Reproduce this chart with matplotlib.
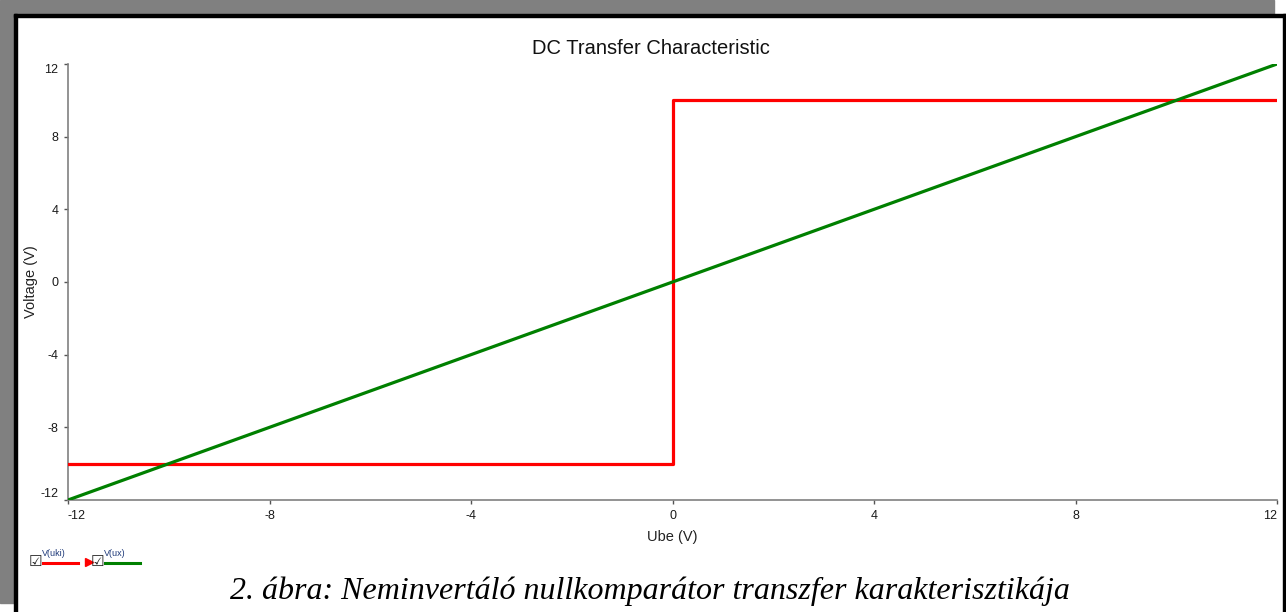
import matplotlib.pyplot as plt
from matplotlib.patches import Rectangle
from matplotlib.lines import Line2D

# data
ube = [-12, 0, 0, 12]
v_uki = [-10, -10, 10, 10]
ux_x = [-12, 12]
v_ux = [-12, 12]
ticks = [-12, -8, -4, 0, 4, 8, 12]

W, H = 1286, 612
plt.rcParams['font.family'] = ['Liberation Sans', 'DejaVu Sans']
plt.rcParams['axes.unicode_minus'] = False

fig = plt.figure(figsize=(W / 100, H / 100), dpi=100)


def fx(x):
    return x / W


def fy(y):
    return 1 - y / H


# screenshot frame: grey band top/left, black border
fig.patches.append(Rectangle((0, fy(14)), fx(1274), 14 / H, transform=fig.transFigure,
                             color='#808080', zorder=0))
fig.patches.append(Rectangle((0, fy(603)), fx(14), (603 - 14) / H, transform=fig.transFigure,
                             color='#808080', zorder=0))
fig.patches.append(Rectangle((fx(14), fy(17)), fx(1272), 3 / H, transform=fig.transFigure,
                             color='black', zorder=0))
fig.patches.append(Rectangle((fx(14), 0), fx(3), fy(14), transform=fig.transFigure,
                             color='black', zorder=0))
fig.patches.append(Rectangle((fx(1283), 0), fx(3), fy(14), transform=fig.transFigure,
                             color='black', zorder=0))

ax = fig.add_axes([fx(68), fy(500), fx(1277 - 68), (500 - 64) / H])
ax.patch.set_alpha(0)

ax.plot(ube, v_uki, color='#ff0000', lw=2.3, solid_joinstyle='round', zorder=3)
ax.plot(ux_x, v_ux, color='#008000', lw=2.3, zorder=4)

ax.set_xlim(-12, 12)
ax.set_ylim(-12, 12)
ax.set_xticks(ticks)
ax.set_yticks(ticks)
ax.tick_params(labelsize=9, length=3, width=1, color='#555555', labelcolor='#1a1a1a', pad=4)
for s in ['top', 'right']:
    ax.spines[s].set_visible(False)
for s in ['left', 'bottom']:
    ax.spines[s].set_color('#808080')
    ax.spines[s].set_linewidth(1.2)

# edge tick labels pulled inside like the original plotter does
xl = ax.get_xticklabels()
xl[0].set_ha('left')
xl[-1].set_ha('right')
yl = ax.get_yticklabels()
yl[0].set_va('bottom')
yl[-1].set_va('top')

fig.text(fx(651), fy(49), 'DC Transfer Characteristic', fontsize=14.5, color='#111111',
         ha='center', va='center')
ax.set_xlabel('Ube (V)', fontsize=10.5, color='#222222', labelpad=6)
ax.set_ylabel('Voltage (V)', fontsize=10.5, color='#222222')
ax.yaxis.set_label_coords((38 - 68) / 1209, 0.5)

# legend strip below the plot
fig.text(fx(29), fy(561), '☑', fontsize=11, family='DejaVu Sans', va='center', color='#222222')
fig.text(fx(42), fy(553), 'V(uki)', fontsize=6.5, va='center', color='#1f3a7a')
fig.add_artist(Line2D([fx(43), fx(78)], [fy(563), fy(563)], color='#ff0000', lw=2.2,
                      transform=fig.transFigure))
fig.add_artist(Line2D([fx(89)], [fy(562)], marker='>', markersize=6, color='#ff0000',
                      transform=fig.transFigure))
fig.text(fx(91), fy(561), '☑', fontsize=11, family='DejaVu Sans', va='center', color='#222222')
fig.text(fx(104), fy(553), 'V(ux)', fontsize=6.5, va='center', color='#1f3a7a')
fig.add_artist(Line2D([fx(105), fx(140)], [fy(563), fy(563)], color='#008000', lw=2.2,
                      transform=fig.transFigure))

fig.text(fx(650), fy(591), '2. ábra: Neminvertáló nullkomparátor transzfer karakterisztikája',
         family='Liberation Serif', style='italic', fontsize=23, ha='center', va='center')

fig.savefig('out.png', dpi=100)
